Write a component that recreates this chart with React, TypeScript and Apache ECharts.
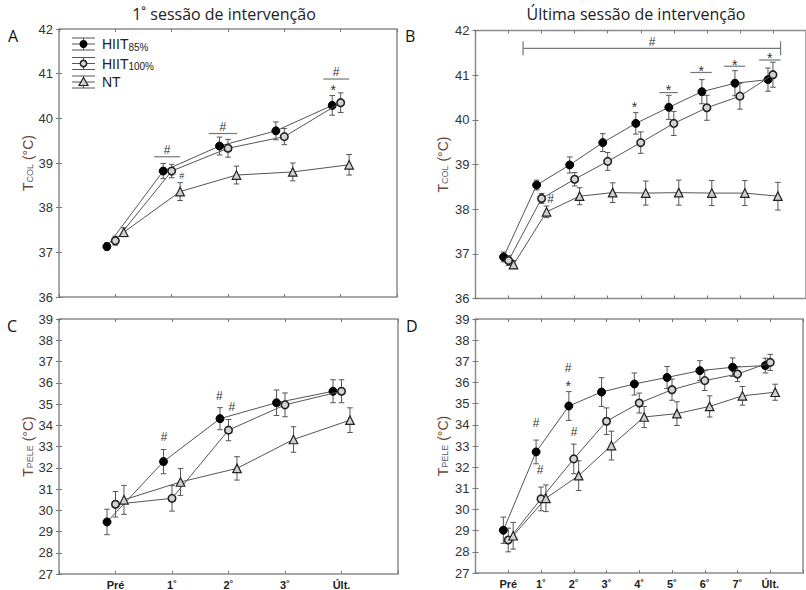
import React, { useEffect, useRef } from "react";
import * as echarts from "echarts";

// ---------- categories ----------
const catsFirst = ["Pré", "1˚", "2˚", "3˚", "Últ."];
const catsLast = ["Pré", "1˚", "2˚", "3˚", "4˚", "5˚", "6˚", "7˚", "Últ."];

// ---------- A: T_COL, first session ----------
const colFirstH85 = [37.13, 38.82, 39.38, 39.72, 40.29];
const colFirstH85Err = [0.08, 0.17, 0.2, 0.2, 0.22];
const colFirstH100 = [37.26, 38.82, 39.33, 39.59, 40.35];
const colFirstH100Err = [0.1, 0.15, 0.2, 0.18, 0.22];
const colFirstNT = [37.45, 38.36, 38.73, 38.8, 38.96];
const colFirstNTErr = [0.1, 0.2, 0.2, 0.2, 0.23];

// ---------- B: T_COL, last session ----------
const colLastH85 = [36.93, 38.54, 38.99, 39.49, 39.92, 40.28, 40.63, 40.82, 40.9];
const colLastH85Err = [0.11, 0.11, 0.18, 0.2, 0.24, 0.27, 0.27, 0.28, 0.26];
const colLastH100 = [36.85, 38.24, 38.67, 39.07, 39.49, 39.92, 40.27, 40.53, 41.01];
const colLastH100Err = [0.11, 0.11, 0.15, 0.2, 0.24, 0.27, 0.28, 0.29, 0.28];
const colLastNT = [36.76, 37.94, 38.29, 38.37, 38.36, 38.37, 38.36, 38.36, 38.29];
const colLastNTErr = [0.09, 0.13, 0.19, 0.22, 0.27, 0.28, 0.28, 0.28, 0.31];

// ---------- C: T_PELE, first session ----------
const skinFirstH85 = [29.45, 32.29, 34.31, 35.06, 35.6];
const skinFirstH85Err = [0.6, 0.57, 0.52, 0.6, 0.54];
const skinFirstH100 = [30.28, 30.56, 33.77, 34.96, 35.6];
const skinFirstH100Err = [0.6, 0.6, 0.5, 0.56, 0.54];
const skinFirstNT = [30.49, 31.33, 31.97, 33.33, 34.24];
const skinFirstNTErr = [0.68, 0.63, 0.55, 0.6, 0.58];

// ---------- D: T_PELE, last session ----------
const skinLastH85 = [29.02, 32.72, 34.89, 35.55, 35.93, 36.24, 36.56, 36.72, 36.8];
const skinLastH85Err = [0.62, 0.56, 0.68, 0.68, 0.52, 0.52, 0.47, 0.44, 0.35];
const skinLastH100 = [28.56, 30.5, 32.39, 34.17, 35.03, 35.66, 36.09, 36.4, 36.95];
const skinLastH100Err = [0.56, 0.56, 0.7, 0.63, 0.47, 0.5, 0.47, 0.36, 0.38];
const skinLastNT = [28.76, 30.53, 31.6, 33.02, 34.37, 34.53, 34.87, 35.37, 35.54];
const skinLastNTErr = [0.63, 0.63, 0.7, 0.68, 0.5, 0.56, 0.5, 0.44, 0.38];

// ---------- y ticks ----------
const colTicks = [36, 42];
const skinTicks = [27, 39];

// ---------- significance annotations (data coordinates) ----------
const marksA = [
  { x: 1.92, y: 39.3, t: "#" },
  { x: 2.18, y: 38.72, t: "#", small: true },
  { x: 2.91, y: 39.81, t: "#" },
  { x: 4.92, y: 41.04, t: "#" },
  { x: 4.87, y: 40.7, t: "*" },
];
const barsA = [
  { x1: 1.69, x2: 2.15, y: 39.14 },
  { x1: 2.66, x2: 3.16, y: 39.66 },
  { x1: 4.69, x2: 5.15, y: 40.88 },
];
const marksB = [
  { x: 5.34, y: 41.74, t: "#" },
  { x: 2.27, y: 38.22, t: "#" },
  { x: 4.81, y: 40.36, t: "*" },
  { x: 5.84, y: 40.74, t: "*" },
  { x: 6.83, y: 41.17, t: "*" },
  { x: 7.84, y: 41.3, t: "*" },
  { x: 8.9, y: 41.46, t: "*" },
];
const barsB = [
  { x1: 1.44, x2: 9.23, y: 41.6, ends: true },
  { x1: 5.56, x2: 6.12, y: 40.61 },
  { x1: 6.5, x2: 7.15, y: 41.06 },
  { x1: 7.51, x2: 8.16, y: 41.2 },
  { x1: 8.58, x2: 9.23, y: 41.34 },
];
const marksC = [
  { x: 1.86, y: 33.47, t: "#" },
  { x: 2.84, y: 35.39, t: "#" },
  { x: 3.06, y: 34.87, t: "#" },
];
const marksD = [
  { x: 1.85, y: 34.09, t: "#" },
  { x: 1.97, y: 31.87, t: "#" },
  { x: 2.83, y: 36.69, t: "#" },
  { x: 2.83, y: 35.98, t: "*" },
  { x: 3.01, y: 33.66, t: "#" },
];

const OFFSETS = [-0.15, 0, 0.15];
const FONT = "Liberation Sans, Arial, sans-serif";
const LINE = "#555";

type Mark = { x: number; y: number; t: string; small?: boolean };
type Bar = { x1: number; x2: number; y: number; ends?: boolean };

function pts(vals: number[], off: number) {
  return vals.map((v, i) => [i + 1 + off, v]);
}
function errs(vals: number[], e: number[], off: number) {
  return vals.map((v, i) => [i + 1 + off, v - e[i], v + e[i]]);
}

const symbolStyles = [
  { symbol: "circle", symbolSize: 8, itemStyle: { color: "#000", borderColor: "#000", borderWidth: 1 } },
  { symbol: "circle", symbolSize: 7.5, itemStyle: { color: "#d4d4d4", borderColor: "#222", borderWidth: 1.6 } },
  { symbol: "triangle", symbolSize: 8.5, itemStyle: { color: "#d0d0d0", borderColor: "#222", borderWidth: 1.2 } },
];
const names = ["HIIT85%", "HIIT100%", "NT"];

function buildPanel(
  g: number,
  groups: { v: number[]; e: number[] }[],
  marks: Mark[],
  bars: Bar[]
) {
  const series: any[] = [];
  groups.forEach((grp, k) => {
    const off = OFFSETS[k];
    series.push({
      type: "custom",
      name: names[k] + " erro",
      xAxisIndex: 2 * g,
      yAxisIndex: 2 * g,
      data: errs(grp.v, grp.e, off),
      silent: true,
      z: 2,
      renderItem: (params: any, api: any) => {
        const x = api.value(0);
        const lo = api.coord([x, api.value(1)]);
        const hi = api.coord([x, api.value(2)]);
        const c = 2.8;
        const st = { stroke: LINE, lineWidth: 1 };
        return {
          type: "group",
          children: [
            { type: "line", shape: { x1: lo[0], y1: lo[1], x2: hi[0], y2: hi[1] }, style: st },
            { type: "line", shape: { x1: lo[0] - c, y1: lo[1], x2: lo[0] + c, y2: lo[1] }, style: st },
            { type: "line", shape: { x1: hi[0] - c, y1: hi[1], x2: hi[0] + c, y2: hi[1] }, style: st },
          ],
        };
      },
    });
  });
  groups.forEach((grp, k) => {
    const off = OFFSETS[k];
    series.push({
      type: "line",
      name: names[k],
      xAxisIndex: 2 * g,
      yAxisIndex: 2 * g,
      data: pts(grp.v, off),
      lineStyle: { color: LINE, width: 1 },
      ...symbolStyles[k],
      showSymbol: true,
      z: 3 + k,
    });
  });
  series.push({
    type: "custom",
    name: "sig",
    xAxisIndex: 2 * g,
    yAxisIndex: 2 * g,
    data: marks.map((m) => [m.x, m.y]),
    silent: true,
    z: 10,
    renderItem: (params: any, api: any) => {
      const m = marks[params.dataIndex];
      const p = api.coord([api.value(0), api.value(1)]);
      const star = m.t === "*";
      return {
        type: "text",
        x: p[0],
        y: p[1] + (star ? 3 : 0),
        style: {
          text: m.t,
          fill: "#333",
          fontSize: m.small ? 9 : star ? 14 : 12,
          fontFamily: FONT,
          align: "center",
          verticalAlign: "middle",
        },
      };
    },
  });
  if (bars.length) {
    series.push({
      type: "custom",
      name: "sigbar",
      xAxisIndex: 2 * g,
      yAxisIndex: 2 * g,
      data: bars.map((b) => [b.x1, b.x2, b.y]),
      silent: true,
      z: 10,
      renderItem: (params: any, api: any) => {
        const b = bars[params.dataIndex];
        const a = api.coord([api.value(0), api.value(2)]);
        const c = api.coord([api.value(1), api.value(2)]);
        const st = { stroke: "#777", lineWidth: 1.2 };
        const children: any[] = [
          { type: "line", shape: { x1: a[0], y1: a[1], x2: c[0], y2: c[1] }, style: st },
        ];
        if (b.ends) {
          children.push({ type: "line", shape: { x1: a[0], y1: a[1] - 7, x2: a[0], y2: a[1] + 7 }, style: st });
          children.push({ type: "line", shape: { x1: c[0], y1: c[1] - 7, x2: c[0], y2: c[1] + 7 }, style: st });
        }
        return { type: "group", children };
      },
    });
  }
  return series;
}

const grids = [
  { left: 59, top: 29, width: 338, height: 268 },
  { left: 475.5, top: 30.5, width: 337.5, height: 268 },
  { left: 59, top: 319, width: 339, height: 256 },
  { left: 475.5, top: 319, width: 337.5, height: 254 },
];

function axesFor(g: number, cats: string[], yr: number[], showX: boolean, sub: string, gap: number) {
  const tick = { show: true, inside: true, length: 3, lineStyle: { color: "#777", width: 1 } };
  const xb = {
    type: "value",
    gridIndex: g,
    min: 0,
    max: cats.length + 1,
    interval: 1,
    axisLine: { show: false },
    axisTick: tick,
    splitLine: { show: false },
    axisLabel: {
      show: showX,
      formatter: (v: number) => cats[Math.round(v) - 1] ?? "",
      fontWeight: "bold",
      fontSize: 11,
      color: "#222",
      fontFamily: FONT,
      margin: 5,
    },
  };
  const xt = { ...xb, position: "top", axisLabel: { show: false } };
  const yl = {
    type: "value",
    gridIndex: g,
    min: yr[0],
    max: yr[1],
    interval: 1,
    axisLine: { show: false },
    axisTick: tick,
    splitLine: { show: false },
    axisLabel: { fontSize: 13, color: "#333", fontFamily: FONT, margin: 6 },
    name: "{t|T}{s|" + sub + "}{t| (°C)}",
    nameLocation: "middle",
    nameGap: gap,
    nameTextStyle: {
      rich: {
        t: { fontSize: 14, color: "#6b4535", fontFamily: FONT },
        s: { fontSize: 9, color: "#566070", fontFamily: FONT, verticalAlign: "bottom", padding: [5, 0, 0, 0] },
      },
    },
  };
  const yr2 = { ...yl, position: "right", axisLabel: { show: false }, name: "" };
  return { x: [xb, xt], y: [yl, yr2] };
}

function legendGraphic() {
  const rows = [
    { y: 44, label: "{a|HIIT}{b|85%}", k: 0 },
    { y: 63.5, label: "{a|HIIT}{b|100%}", k: 1 },
    { y: 82, label: "{a|NT}", k: 2 },
  ];
  const children: any[] = [];
  rows.forEach((r) => {
    const st = { stroke: "#555", lineWidth: 1 };
    const x1 = 72,
      x2 = 95,
      cx = 83.5;
    children.push({ type: "line", shape: { x1, y1: r.y - 6, x2, y2: r.y - 6 }, style: st });
    children.push({ type: "line", shape: { x1, y1: r.y, x2, y2: r.y }, style: st });
    children.push({ type: "line", shape: { x1, y1: r.y + 6, x2, y2: r.y + 6 }, style: st });
    children.push({ type: "line", shape: { x1: cx, y1: r.y - 6, x2: cx, y2: r.y + 6 }, style: st });
    if (r.k === 0) children.push({ type: "circle", shape: { cx, cy: r.y, r: 4 }, style: { fill: "#000" } });
    if (r.k === 1)
      children.push({ type: "circle", shape: { cx, cy: r.y, r: 3.2 }, style: { fill: "#d4d4d4", stroke: "#222", lineWidth: 1.5 } });
    if (r.k === 2)
      children.push({
        type: "polygon",
        shape: { points: [[cx, r.y - 4.5], [cx - 4.5, r.y + 3.5], [cx + 4.5, r.y + 3.5]] },
        style: { fill: "#d0d0d0", stroke: "#222", lineWidth: 1.2 },
      });
    children.push({
      type: "text",
      x: 102,
      y: r.y,
      style: {
        text: r.label,
        verticalAlign: "middle",
        rich: {
          a: { fontSize: 14, fill: "#222", fontFamily: FONT },
          b: { fontSize: 10, fill: "#222", fontFamily: FONT, verticalAlign: "bottom", padding: [6, 0, 0, 0] },
        },
      },
    });
  });
  return [{ type: "group", children }];
}

export default function App() {
  const ref = useRef<HTMLDivElement>(null);
  useEffect(() => {
    if (!ref.current) return;
    const chart = echarts.init(ref.current, undefined, { renderer: "svg" });
    const aA = axesFor(0, catsFirst, colTicks, false, "COL", 24);
    const aB = axesFor(1, catsLast, colTicks, false, "COL", 26);
    const aC = axesFor(2, catsFirst, skinTicks, true, "PELE", 24);
    const aD = axesFor(3, catsLast, skinTicks, true, "PELE", 26);
    const series = [
      ...buildPanel(
        0,
        [
          { v: colFirstH85, e: colFirstH85Err },
          { v: colFirstH100, e: colFirstH100Err },
          { v: colFirstNT, e: colFirstNTErr },
        ],
        marksA,
        barsA
      ),
      ...buildPanel(
        1,
        [
          { v: colLastH85, e: colLastH85Err },
          { v: colLastH100, e: colLastH100Err },
          { v: colLastNT, e: colLastNTErr },
        ],
        marksB,
        barsB
      ),
      ...buildPanel(
        2,
        [
          { v: skinFirstH85, e: skinFirstH85Err },
          { v: skinFirstH100, e: skinFirstH100Err },
          { v: skinFirstNT, e: skinFirstNTErr },
        ],
        marksC,
        []
      ),
      ...buildPanel(
        3,
        [
          { v: skinLastH85, e: skinLastH85Err },
          { v: skinLastH100, e: skinLastH100Err },
          { v: skinLastNT, e: skinLastNTErr },
        ],
        marksD,
        []
      ),
    ];
    const titleStyle = { fontFamily: "Open Sans, sans-serif", fontSize: 16, fontWeight: "normal", color: "#222" };
    const letterStyle = { fontFamily: "Open Sans, sans-serif", fontSize: 16, fontWeight: "normal", color: "#111" };
    chart.setOption({
      animation: false,
      backgroundColor: "#fff",
      title: [
        { text: "1˚ sessão de intervenção", left: 224, top: 6, textAlign: "center", padding: 0, textStyle: titleStyle },
        { text: "Última sessão de intervenção", left: 636, top: 6, textAlign: "center", padding: 0, textStyle: titleStyle },
        { text: "A", left: 8, top: 28, padding: 0, textStyle: letterStyle },
        { text: "B", left: 405, top: 28, padding: 0, textStyle: letterStyle },
        { text: "C", left: 7, top: 318, padding: 0, textStyle: letterStyle },
        { text: "D", left: 406, top: 318, padding: 0, textStyle: letterStyle },
      ],
      grid: grids.map((g) => ({ ...g, show: true, borderColor: "#8c8c8c", borderWidth: 1.5, backgroundColor: "transparent" })),
      xAxis: [...aA.x, ...aB.x, ...aC.x, ...aD.x],
      yAxis: [...aA.y, ...aB.y, ...aC.y, ...aD.y],
      graphic: legendGraphic(),
      series,
    });
    return () => chart.dispose();
  }, []);
  return (
    <div
      ref={ref}
      style={{ position: "fixed", left: 0, top: 0, width: 806, height: 590, background: "#fff" }}
    />
  );
}
